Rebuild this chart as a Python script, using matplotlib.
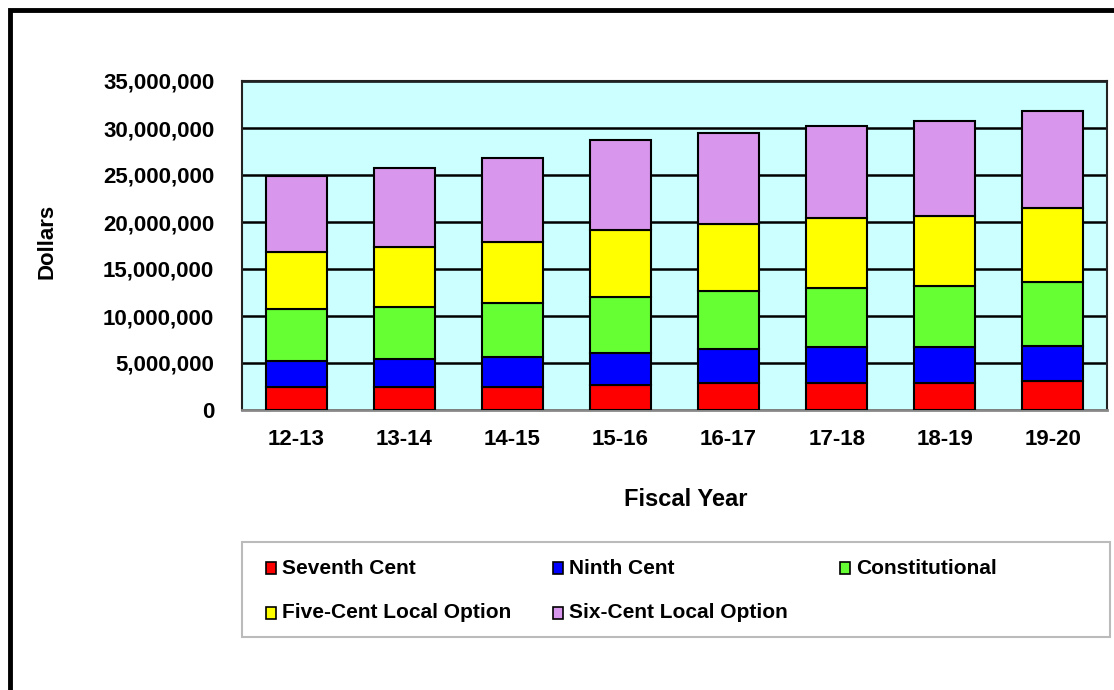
"""Fuel tax revenue by fiscal year, stacked by levy type."""
import matplotlib
matplotlib.use("Agg")
import matplotlib.pyplot as plt
from matplotlib.patches import Rectangle
from matplotlib.ticker import FuncFormatter

plt.rcParams["font.family"] = ["Liberation Sans", "DejaVu Sans"]
plt.rcParams["font.weight"] = "bold"

years = ["12-13", "13-14", "14-15", "15-16", "16-17", "17-18", "18-19", "19-20"]
seventh = [2.44, 2.44, 2.44, 2.65, 2.86, 2.86, 2.86, 3.07]
ninth = [2.75, 3.00, 3.21, 3.43, 3.64, 3.86, 3.86, 3.78]
constitutional = [5.55, 5.51, 5.73, 5.89, 6.11, 6.31, 6.52, 6.82]
five_cent = [6.10, 6.36, 6.52, 7.20, 7.20, 7.42, 7.42, 7.83]
six_cent = [8.02, 8.40, 8.87, 9.51, 9.68, 9.71, 10.10, 10.32]

series = [
    ("Seventh Cent", seventh, "#FF0000"),
    ("Ninth Cent", ninth, "#0000FF"),
    ("Constitutional", constitutional, "#66FF33"),
    ("Five-Cent Local Option", five_cent, "#FFFF00"),
    ("Six-Cent Local Option", six_cent, "#D896EC"),
]

W, H = 1114, 690
fig = plt.figure(figsize=(W / 100, H / 100), dpi=100)

def fx(px):
    return px / W

def fy(py):
    return 1 - py / H

# outer chart frame
fig.patches.append(Rectangle((fx(10), fy(720)), fx(1140) - fx(10), fy(10) - fy(720),
                             transform=fig.transFigure, fill=False,
                             edgecolor="black", linewidth=3.5))

ax = fig.add_axes([fx(242), fy(410), fx(1107) - fx(242), fy(81) - fy(410)])
ax.set_facecolor("#CCFFFF")

x = range(len(years))
bottom = [0.0] * len(years)
for name, vals, color in series:
    dollars = [v * 1e6 for v in vals]
    ax.bar(x, dollars, width=0.565, bottom=bottom, color=color,
           edgecolor="black", linewidth=1.5, zorder=3)
    bottom = [b + d for b, d in zip(bottom, dollars)]

ax.set_xlim(-0.5, len(years) - 0.5)
ax.set_ylim(0, 35e6)
ax.set_yticks([i * 5e6 for i in range(8)])
ax.yaxis.set_major_formatter(FuncFormatter(lambda v, p: f"{v:,.0f}"))
ax.set_xticks(list(x))
ax.set_xticklabels(years)
ax.tick_params(length=0, labelsize=16)
ax.tick_params(axis="y", pad=20)
ax.tick_params(axis="x", pad=14)
ax.grid(axis="y", color="black", linewidth=1.8, zorder=1)
for s in ["left", "top", "right"]:
    ax.spines[s].set_color("#222222")
    ax.spines[s].set_linewidth(1.5)
ax.spines["bottom"].set_color("#888888")
ax.spines["bottom"].set_linewidth(2)

fig.text(fx(47), fy(241), "Dollars", rotation=90, ha="center", va="center",
         fontsize=16, fontweight="bold")
fig.text(fx(686), fy(499), "Fiscal Year", ha="center", va="center",
         fontsize=17, fontweight="bold")

# legend box
fig.patches.append(Rectangle((fx(242), fy(637)), fx(1110) - fx(242), fy(542) - fy(637),
                             transform=fig.transFigure, fill=False,
                             edgecolor="#BBBBBB", linewidth=1.5))
slots = [(266, 568), (553, 568), (840, 568), (266, 613), (553, 613)]
for (name, vals, color), (lx, ly) in zip(series, slots):
    fig.patches.append(Rectangle((fx(lx), fy(ly + 6)), fx(10), 12 / H,
                                 transform=fig.transFigure, facecolor=color,
                                 edgecolor="black", linewidth=1.2))
    fig.text(fx(lx + 16), fy(ly), name, ha="left", va="center",
             fontsize=15, fontweight="bold")

fig.savefig("out.png", dpi=100)
